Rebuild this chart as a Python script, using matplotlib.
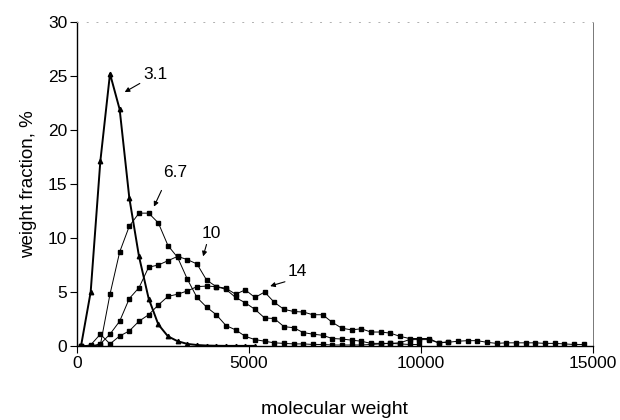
import numpy as np
import matplotlib
matplotlib.use("Agg")
from matplotlib import pyplot as plt

plt.rcParams['font.family'] = ['Liberation Sans', 'DejaVu Sans']

# molecular weight grid (same spacing for every curve)
mw_start = 120
mw_step = 281

# weight fraction, % for each sample
wf_31 = [0, 5.0, 17.1, 25.2, 21.9, 13.7, 8.3, 4.4, 2.0, 0.9, 0.45, 0.2, 0.1, 0.05,
         0.03, 0.02, 0.02, 0.02, 0.02]
wf_67 = [0, 0, 0.1, 4.8, 8.7, 11.1, 12.3, 12.3, 11.4, 9.3, 8.2, 6.2, 4.5, 3.6,
         2.9, 1.9, 1.5, 0.9, 0.6, 0.45, 0.3, 0.25, 0.2, 0.2, 0.15, 0.15, 0.1,
         0.1, 0.1, 0.1, 0.15, 0.2, 0.25, 0.2, 0.15, 0.15]
wf_10 = [0, 0, 0.2, 1.1, 2.3, 4.4, 5.4, 7.3, 7.5, 7.9, 8.3, 8.0, 7.6, 6.1,
         5.5, 5.25, 4.5, 4.0, 3.4, 2.6, 2.55, 1.8, 1.7, 1.25, 1.1, 1.0, 0.7,
         0.65, 0.55, 0.45, 0.25, 0.25, 0.25, 0.3, 0.6, 0.6, 0.6, 0.3, 0.4]
wf_14 = [0, 0.1, 1.1, 0.2, 0.93, 1.4, 2.3, 2.9, 3.8, 4.6, 4.8, 5.1, 5.5, 5.55,
         5.5, 5.35, 4.8, 5.2, 4.5, 5.0, 4.05, 3.4, 3.2, 3.15, 2.9, 2.9, 2.2,
         1.65, 1.5, 1.6, 1.3, 1.3, 1.2, 0.9, 0.7, 0.7, 0.7, 0.3, 0.35, 0.45,
         0.5, 0.5, 0.35, 0.25, 0.3, 0.3, 0.3, 0.3, 0.25, 0.25, 0.2, 0.15, 0.15]

labels = ['3.1', '6.7', '10', '14']
label_xy = [(2300, 25.1), (2850, 16.1), (3920, 10.4), (6400, 6.9)]
arrow_tail = [(1830, 24.3), (2460, 14.4), (3770, 9.4), (6050, 5.95)]
arrow_head = [(1390, 23.5), (2240, 12.9), (3670, 8.3), (5620, 5.55)]


def mw(vals):
    return mw_start + mw_step * np.arange(len(vals))


fig = plt.figure(figsize=(6.2, 4.2), dpi=100)
ax = fig.add_axes([0.124, 0.176, 0.832, 0.772])

ax.plot(mw(wf_31), wf_31, color='black', lw=1.4, marker='^', ms=3.2,
        mfc='black', mec='black')
for vals in [wf_67, wf_10, wf_14]:
    ax.plot(mw(vals), vals, color='black', lw=0.7, marker='s', ms=3.4,
            mfc='black', mec='black')

for lab, txy, tail, head in zip(labels, label_xy, arrow_tail, arrow_head):
    ax.text(txy[0], txy[1], lab, fontsize=12.5, ha='center', va='center')
    ax.annotate('', xy=head, xytext=tail,
                arrowprops=dict(arrowstyle='-|>', color='black', lw=0.8,
                                mutation_scale=7, shrinkA=0, shrinkB=0))

ax.set_xlim(0, 15000)
ax.set_ylim(0, 30)
ax.set_xticks([0, 5000, 10000, 15000])
ax.set_yticks(range(0, 31, 5))
ax.tick_params(direction='out', length=5, width=0.8, labelsize=12.5, pad=2)
ax.set_xlabel('molecular weight', fontsize=14, labelpad=22)
ax.set_ylabel('weight fraction, %', fontsize=13.5, labelpad=8)

# faint dotted frame on top and right, as in the original
ax.spines['top'].set_linestyle((0, (1, 9)))
ax.spines['top'].set_color('#b0b0b0')
ax.spines['top'].set_linewidth(0.7)
ax.spines['right'].set_linestyle((0, (2, 1)))
ax.spines['right'].set_color('#777777')
ax.spines['right'].set_linewidth(0.7)
ax.spines['left'].set_linewidth(1.0)
ax.spines['bottom'].set_linewidth(1.0)

fig.savefig('out.png', dpi=100)
